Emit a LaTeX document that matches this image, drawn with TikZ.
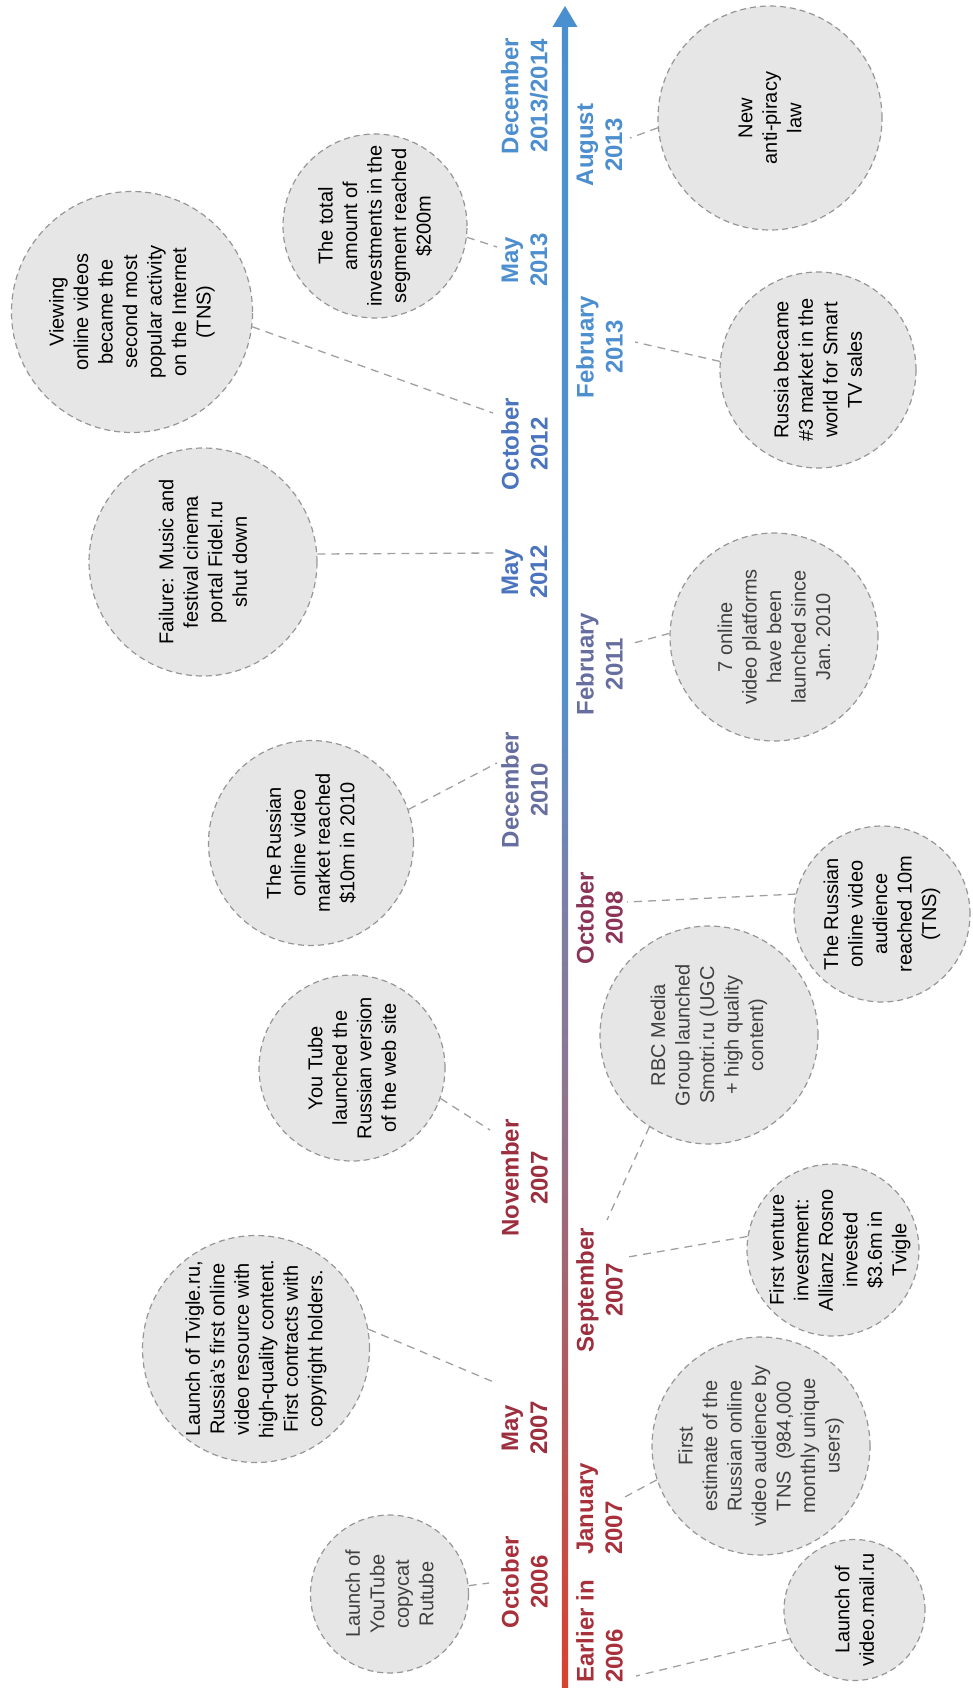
\documentclass[tikz,border=0pt]{standalone}
\usepackage{fontspec}
\setmainfont{Liberation Sans}
\definecolor{bubfill}{HTML}{E6E6E6}
\definecolor{bubline}{HTML}{969696}
\definecolor{conncol}{HTML}{A0A0A0}
\definecolor{graytext}{HTML}{404040}
\definecolor{ax1}{HTML}{D9412F}
\definecolor{ax2}{HTML}{B05A5E}
\definecolor{ax3}{HTML}{8E7590}
\definecolor{ax4}{HTML}{7A80A8}
\definecolor{ax5}{HTML}{5590CC}
\definecolor{ax6}{HTML}{4A90D0}
\definecolor{dA}{HTML}{A8303A}
\definecolor{dB}{HTML}{9C2E3E}
\definecolor{dC}{HTML}{8C3458}
\definecolor{dD}{HTML}{666EA0}
\definecolor{dE}{HTML}{4A74BE}
\definecolor{dF}{HTML}{4C8ECE}
\pgfdeclareverticalshading{axisshade}{100bp}{color(0bp)=(ax1); color(25bp)=(ax1); color(34bp)=(ax2); color(43bp)=(ax3); color(49bp)=(ax4); color(55bp)=(ax5); color(75bp)=(ax6); color(100bp)=(ax6)}
\tikzset{
  bub/.style={circle, draw=bubline, fill=bubfill, dash pattern=on 6pt off 4pt, line width=1.2pt, inner sep=0pt},
  btxt/.style={rotate=90, align=center, font=\fontsize{20}{24.5}\selectfont, inner sep=0pt},
  gtxt/.style={btxt, text=graytext},
  datel/.style={rotate=90, align=center, font=\bfseries\fontsize{24}{29}\selectfont, inner sep=0pt},
  conn/.style={draw=conncol, dash pattern=on 8pt off 6pt, line width=1.3pt},
}
\begin{document}
\begin{tikzpicture}[x=1pt,y=-1pt]
\useasboundingbox (0,0) rectangle (973,1688);
% axis
\shade[shading=axisshade] (561.8,27) rectangle (568.2,1688);
\fill[ax6] (552.5,27) -- (565,6) -- (577.5,27) -- cycle;

% date labels
\node[datel, text=dA, anchor=west, align=left] (d1) at (599.5,1683) {Earlier in\\2006};
\node[datel, text=dA] (d2) at (524.5,1582) {October\\2006};
\node[datel, text=dA, anchor=west, align=left] (d3) at (599.5,1555) {January\\2007};
\node[datel, text=dB] (d4) at (524.5,1428) {May\\2007};
\node[datel, text=dB] (d5) at (599.5,1290) {September\\2007};
\node[datel, text=dB] (d6) at (524.5,1178) {November\\2007};
\node[datel, text=dC] (d7) at (599.5,918) {October\\2008};
\node[datel, text=dD] (d8) at (524.5,790) {December\\2010};
\node[datel, text=dD] (d9) at (599.5,664) {February\\2011};
\node[datel, text=dE] (d10) at (524.5,572) {May\\2012};
\node[datel, text=dE] (d11) at (524.5,444) {October\\2012};
\node[datel, text=dF] (d12) at (599.5,347) {February\\2013};
\node[datel, text=dF] (d13) at (524.5,260) {May\\2013};
\node[datel, text=dF] (d14) at (599.5,145) {August\\2013};
\node[datel, text=dF] (d15) at (524.5,96) {December\\2013/2014};

% bubbles
\node[bub, minimum size=158] (e1) at (389.5,1594) {};
\node[gtxt] (t1) at (e1) {Launch of\\YouTube\\copycat\\Rutube};
\node[bub, minimum size=227] (e2) at (256,1349) {};
\node[btxt] (t2) at (e2) {Launch of Tvigle.ru,\\Russia's first online\\video resource with\\high-quality content.\\First contracts with\\copyright holders.};
\node[bub, minimum size=186] (e3) at (352,1068) {};
\node[btxt] (t3) at (e3) {You Tube\\launched the\\Russian version\\of the web site};
\node[bub, minimum size=205] (e4) at (311,843) {};
\node[btxt] (t4) at (e4) {The Russian\\online video\\market reached\\\$10m in 2010};
\node[bub, minimum size=228] (e5) at (203,562) {};
\node[btxt] (t5) at (e5) {Failure: Music and\\festival cinema\\portal Fidel.ru\\shut down};
\node[bub, minimum size=241] (e6) at (132,312) {};
\node[btxt] (t6) at (e6) {Viewing\\online videos\\became the\\second most\\popular activity\\on the Internet\\(TNS)};
\node[bub, minimum size=184] (e7) at (375,226) {};
\node[btxt] (t7) at (e7) {The total\\amount of\\investments in the\\segment reached\\\$200m};
\node[bub, minimum size=141] (e8) at (854.5,1610) {};
\node[btxt] (t8) at (e8) {Launch of\\video.mail.ru};
\node[bub, minimum size=218] (e9) at (761,1446) {};
\node[gtxt] (t9) at (e9) {First\\estimate of the\\Russian online\\video audience by\\TNS~ (984,000\\monthly unique\\users)};
\node[bub, minimum size=172] (e10) at (833,1250) {};
\node[btxt] (t10) at ([xshift=7]e10.center) {First venture\\investment:\\Allianz Rosno\\invested\\\$3.6m in\\Tvigle};
\node[bub, minimum size=218] (e11) at (709,1035) {};
\node[gtxt] (t11) at (e11) {RBC Media\\Group launched\\Smotri.ru (UGC\\+ high quality\\content)};
\node[bub, minimum size=176] (e12) at (882,914) {};
\node[btxt] (t12) at (e12) {The Russian\\online video\\audience\\reached 10m\\(TNS)};
\node[bub, minimum size=208] (e13) at (774,637) {};
\node[gtxt] (t13) at (e13) {7 online\\video platforms\\have been\\launched since\\Jan.\ 2010};
\node[bub, minimum size=196] (e14) at (818,370) {};
\node[btxt] (t14) at (e14) {Russia became\\\#3 market in the\\world for Smart\\TV sales};
\node[bub, minimum size=224] (e15) at (770,118) {};
\node[btxt] (t15) at (e15) {New\\anti-piracy\\law};

% connector ends
\coordinate (k1) at (489,1583);
\coordinate (k2) at (496,1383);
\coordinate (k3) at (490,1130);
\coordinate (k4) at (497,763);
\coordinate (k5) at (495,553);
\coordinate (k6) at (493,413);
\coordinate (k7) at (497,247);
\coordinate (k8) at (636,1676);
\coordinate (k9) at (623,1498);
\coordinate (k10) at (628,1257);
\coordinate (k11) at (607,1220);
\coordinate (k12) at (627,902);
\coordinate (k13) at (630,644);
\coordinate (k14) at (635,342);
\coordinate (k15) at (630,138);

\draw[conn] (e1.6.5) -- (k1);
\draw[conn] (e2.10) -- (k2);
\draw[conn] (e3.-19.3) -- (k3);
\draw[conn] (e4.19) -- (k4);
\draw[conn] (e5.4.5) -- (k5);
\draw[conn] (e6.-7) -- (k6);
\draw[conn] (e7.-7.6) -- (k7);
\draw[conn] (e8.204) -- (k8);
\draw[conn] (e9.198.8) -- (k9);
\draw[conn] (e10.171.8) -- (k10);
\draw[conn] (e11.237.4) -- (k11);
\draw[conn] (e12.167.8) -- (k12);
\draw[conn] (e13.178) -- (k13);
\draw[conn] (e14.175.3) -- (k14);
\draw[conn] (e15.185) -- (k15);
\end{tikzpicture}
\end{document}
